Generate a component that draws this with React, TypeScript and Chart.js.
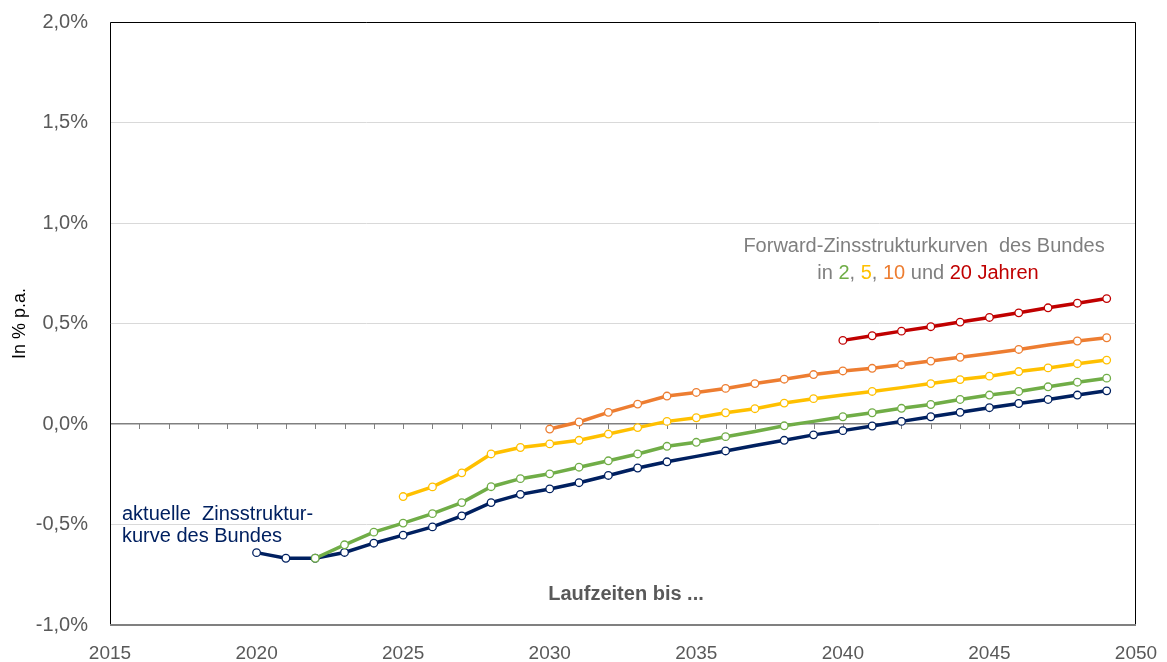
import { useEffect, useRef } from "react";
import { Chart, registerables } from "chart.js";

Chart.register(...registerables);

const FONT = "'Liberation Sans', Arial, sans-serif";

// Maturity years (Laufzeiten bis ...)
const years = [
  2020, 2021, 2022, 2023, 2024, 2025, 2026, 2027, 2028, 2029,
  2030, 2031, 2032, 2033, 2034, 2035, 2036, 2037, 2038, 2039,
  2040, 2041, 2042, 2043, 2044, 2045, 2046, 2047, 2048, 2049,
];

// Current yield curve of the Bund (% p.a.)
const aktuell = [
  -0.64, -0.668, -0.668, -0.639, -0.593, -0.553, -0.512, -0.457, -0.391, -0.35,
  -0.323, -0.292, -0.256, -0.219, -0.188, -0.161, -0.134, -0.107, -0.081, -0.054,
  -0.033, -0.01, 0.013, 0.036, 0.058, 0.081, 0.102, 0.122, 0.144, 0.165,
];

// Forward curve in 2 years
const fwd2 = [
  null, null, -0.668, -0.601, -0.538, -0.493, -0.446, -0.391, -0.312, -0.272,
  -0.248, -0.215, -0.183, -0.149, -0.111, -0.091, -0.063, -0.037, -0.009, 0.013,
  0.036, 0.056, 0.078, 0.097, 0.122, 0.144, 0.162, 0.185, 0.208, 0.228,
];

// Forward curve in 5 years
const fwd5 = [
  null, null, null, null, null, -0.361, -0.313, -0.243, -0.149, -0.117,
  -0.099, -0.081, -0.05, -0.018, 0.013, 0.031, 0.056, 0.076, 0.104, 0.126,
  0.144, 0.162, 0.181, 0.201, 0.221, 0.238, 0.261, 0.279, 0.3, 0.318,
];

// Forward curve in 10 years
const fwd10 = [
  null, null, null, null, null, null, null, null, null, null,
  -0.025, 0.01, 0.058, 0.099, 0.139, 0.157, 0.177, 0.201, 0.223, 0.246,
  0.264, 0.277, 0.295, 0.313, 0.332, 0.351, 0.371, 0.393, 0.413, 0.429,
];

// Forward curve in 20 years
const fwd20 = [
  null, null, null, null, null, null, null, null, null, null,
  null, null, null, null, null, null, null, null, null, null,
  0.416, 0.439, 0.462, 0.484, 0.507, 0.53, 0.553, 0.578, 0.601, 0.624,
];

// Years where the original chart shows no marker on the line
const noMarkerAktuell = [2035, 2037];
const noMarker2 = [2037, 2039];
const noMarker5 = [2040, 2042];
const noMarker10 = [2045, 2047];
const noMarker20: number[] = [];

const yTicks = [-1, -0.5, 0, 0.5, 1, 1.5, 2];
const xTicks = [2015, 2020, 2025, 2030, 2035, 2040, 2045, 2050];

const NAVY = "#002060";
const GREEN = "#70AD47";
const YELLOW = "#FFC000";
const ORANGE = "#ED7D31";
const RED = "#C00000";

function toPoints(vals: (number | null)[]) {
  const out: { x: number; y: number }[] = [];
  vals.forEach((v, i) => {
    if (v !== null) out.push({ x: years[i], y: v });
  });
  return out;
}

function makeDataset(label: string, vals: (number | null)[], color: string, noMarker: number[]) {
  return {
    label,
    data: toPoints(vals),
    borderColor: color,
    backgroundColor: "#ffffff",
    borderWidth: 3.5,
    pointRadius: (ctx: any) => (ctx.raw && noMarker.includes(ctx.raw.x) ? 0 : 3.8),
    pointBorderWidth: 1.3,
    pointBorderColor: color,
    pointBackgroundColor: "#ffffff",
    tension: 0,
  };
}

const framePlugin = {
  id: "framePlugin",
  beforeDatasetsDraw(chart: any) {
    const { ctx, scales } = chart;
    const y0 = scales.y.getPixelForValue(0);
    ctx.save();
    ctx.strokeStyle = "#808080";
    ctx.lineWidth = 1;
    for (let yr = 2016; yr <= 2049; yr++) {
      const x = Math.round(scales.x.getPixelForValue(yr)) + 0.5;
      ctx.beginPath();
      ctx.moveTo(x, y0);
      ctx.lineTo(x, y0 + 5);
      ctx.stroke();
    }
    ctx.restore();
  },
  afterDraw(chart: any) {
    const { ctx, chartArea } = chart;
    const { left, right, top, bottom } = chartArea;
    ctx.save();
    // frame
    ctx.strokeStyle = "#000000";
    ctx.lineWidth = 1;
    ctx.beginPath();
    ctx.moveTo(left + 0.5, bottom);
    ctx.lineTo(left + 0.5, top + 0.5);
    ctx.lineTo(right - 0.5, top + 0.5);
    ctx.lineTo(right - 0.5, bottom);
    ctx.stroke();
    ctx.strokeStyle = "#808080";
    ctx.lineWidth = 2;
    ctx.beginPath();
    ctx.moveTo(left, bottom);
    ctx.lineTo(right, bottom);
    ctx.stroke();

    // annotation: current curve
    ctx.fillStyle = NAVY;
    ctx.font = `20px ${FONT}`;
    ctx.textAlign = "left";
    ctx.textBaseline = "alphabetic";
    ctx.fillText("aktuelle  Zinsstruktur-", 122, 520);
    ctx.fillText("kurve des Bundes", 122, 542);

    // annotation: forward curves
    ctx.fillStyle = "#7F7F7F";
    ctx.textAlign = "center";
    ctx.fillText("Forward-Zinsstrukturkurven  des Bundes", 924, 252);
    const parts: [string, string][] = [
      ["in ", "#7F7F7F"],
      ["2", GREEN],
      [", ", "#7F7F7F"],
      ["5", YELLOW],
      [", ", "#7F7F7F"],
      ["10", ORANGE],
      [" und ", "#7F7F7F"],
      ["20 Jahren", RED],
    ];
    const total = parts.reduce((s, p) => s + ctx.measureText(p[0]).width, 0);
    let x = 928 - total / 2;
    ctx.textAlign = "left";
    for (const [t, c] of parts) {
      ctx.fillStyle = c;
      ctx.fillText(t, x, 279);
      x += ctx.measureText(t).width;
    }

    // x-axis caption
    ctx.fillStyle = "#595959";
    ctx.font = `bold 20px ${FONT}`;
    ctx.textAlign = "center";
    ctx.fillText("Laufzeiten bis ...", 626, 600);
    ctx.restore();
  },
};

export default function App() {
  const canvasRef = useRef<HTMLCanvasElement | null>(null);

  useEffect(() => {
    if (!canvasRef.current) return;
    Chart.defaults.font.family = FONT;
    const chart = new Chart(canvasRef.current, {
      type: "line",
      data: {
        datasets: [
          makeDataset("in 20 Jahren", fwd20, RED, noMarker20),
          makeDataset("in 10 Jahren", fwd10, ORANGE, noMarker10),
          makeDataset("in 5 Jahren", fwd5, YELLOW, noMarker5),
          makeDataset("in 2 Jahren", fwd2, GREEN, noMarker2),
          makeDataset("aktuelle Zinsstrukturkurve", aktuell, NAVY, noMarkerAktuell),
        ] as any,
      },
      options: {
        responsive: false,
        animation: false,
        events: [],
        layout: { padding: { top: 22, right: 31, left: 0, bottom: 0 } },
        plugins: {
          legend: { display: false },
          tooltip: { enabled: false },
        },
        scales: {
          x: {
            type: "linear",
            min: 2015,
            max: 2050,
            afterBuildTicks: (s: any) => {
              s.ticks = xTicks.map((v) => ({ value: v }));
            },
            afterFit: (s: any) => {
              s.height = 37;
              s.paddingLeft = 0;
              s.paddingRight = 0;
            },
            grid: { display: false },
            border: { display: false },
            ticks: {
              color: "#595959",
              font: { size: 19, family: FONT },
              padding: 9,
              maxRotation: 0,
              callback: (v: any) => String(v),
            },
          },
          y: {
            min: -1,
            max: 2,
            afterBuildTicks: (s: any) => {
              s.ticks = yTicks.map((v) => ({ value: v }));
            },
            afterFit: (s: any) => {
              s.width = 110;
              s.paddingTop = 0;
              s.paddingBottom = 0;
            },
            grid: {
              drawTicks: false,
              color: (ctx: any) => (ctx.tick && ctx.tick.value === 0 ? "#808080" : "#D9D9D9"),
              lineWidth: (ctx: any) => (ctx.tick && ctx.tick.value === 0 ? 1.5 : 1),
            },
            border: { display: false },
            ticks: {
              color: "#595959",
              font: { size: 20, family: FONT },
              padding: 22,
              callback: (v: any) => Number(v).toFixed(1).replace(".", ",") + "%",
            },
            title: {
              display: true,
              text: "In % p.a.",
              color: "#000000",
              font: { size: 18, family: FONT },
              padding: { top: 9, bottom: 0 },
            },
          },
        },
      },
      plugins: [framePlugin],
    });
    return () => chart.destroy();
  }, []);

  return (
    <div style={{ position: "fixed", left: 0, top: 0, width: 1167, height: 662, background: "#ffffff" }}>
      <canvas ref={canvasRef} width={1167} height={662} style={{ display: "block" }} />
    </div>
  );
}
